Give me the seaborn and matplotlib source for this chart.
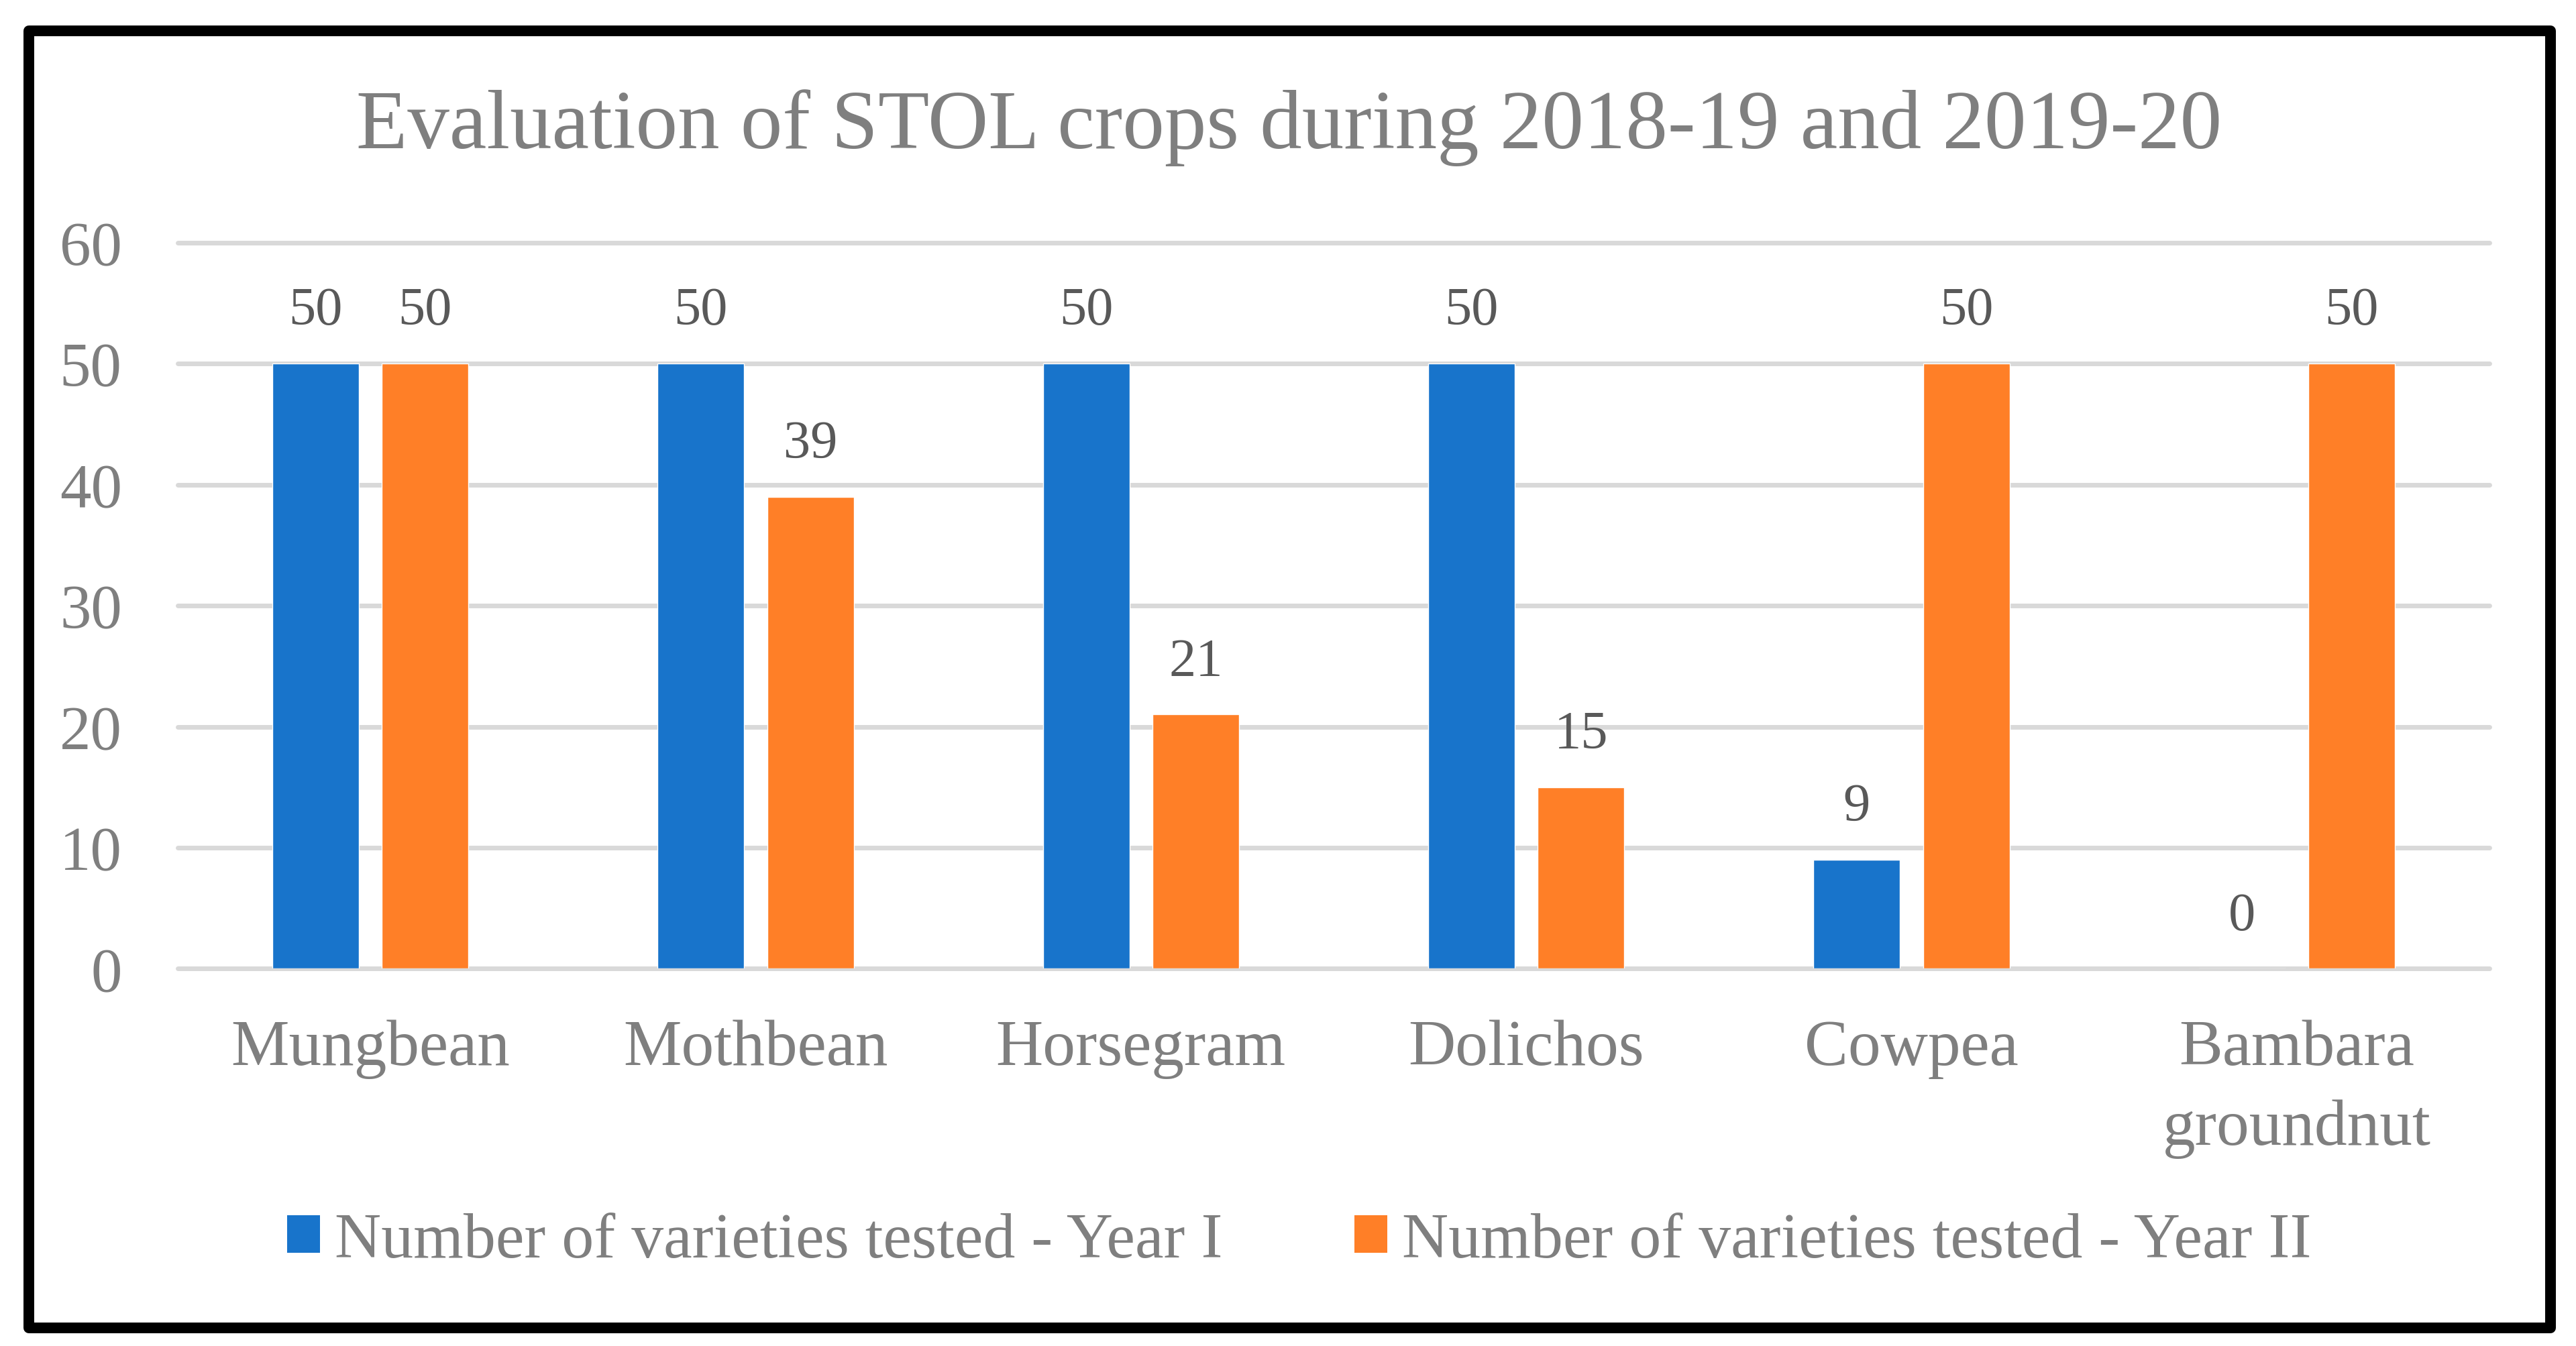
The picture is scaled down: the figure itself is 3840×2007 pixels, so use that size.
import numpy as np
import pandas as pd
import matplotlib.pyplot as plt
from matplotlib.patches import Rectangle, Patch
import seaborn as sns

sns.set_theme(style="white")
plt.rcParams['font.family'] = ['Liberation Serif', 'DejaVu Serif']

# chart data
crops = ['Mungbean', 'Mothbean', 'Horsegram', 'Dolichos', 'Cowpea', 'Bambara\ngroundnut']
year_1 = [50, 50, 50, 50, 9, 0]
year_2 = [50, 39, 21, 15, 50, 50]
series = ['Number of varieties tested - Year I', 'Number of varieties tested - Year II']
colors = ['#1874CB', '#FF7F27']
title = 'Evaluation of STOL crops during 2018-19 and 2019-20'

df = pd.DataFrame({
    'crop': crops * 2,
    'count': year_1 + year_2,
    'series': [series[0]] * len(crops) + [series[1]] * len(crops),
})

fig = plt.figure(figsize=(38.4, 20.08), dpi=100)
ax = fig.add_axes([0.0690, 0.28013, 0.8974, 0.53934])

sns.barplot(data=df, x='crop', y='count', hue='series', palette=colors,
            width=0.569, gap=0.211, saturation=1, legend=False, ax=ax)

ax.set_ylim(0, 60)
ax.set_xlim(-0.5, len(crops) - 0.5)
ax.set_yticks(range(0, 61, 10))
ax.set_axisbelow(True)
ax.yaxis.grid(True, color='#D9D9D9', linewidth=5)
ax.xaxis.grid(False)
for gl in ax.get_ygridlines():
    gl.set_clip_on(False)
for s in ax.spines.values():
    s.set_visible(False)

ax.set_xlabel('')
ax.set_ylabel('')
ax.tick_params(axis='y', length=0, pad=60, labelsize=67, labelcolor='#7F7F7F')
ax.tick_params(axis='x', length=0, pad=54, labelsize=70, labelcolor='#7F7F7F')
for lbl in ax.get_xticklabels():
    lbl.set_linespacing(1.45)

for cont in ax.containers:
    ax.bar_label(cont, fmt='%d', padding=30, fontsize=58, color='#595959')

fig.text(0.5005, 1 - 221 / 2008, title, ha='center', va='baseline',
         fontsize=90, color='#7F7F7F')

handles = [Patch(facecolor=c, edgecolor='none') for c in colors]
fig.legend(handles, series, loc='center', bbox_to_anchor=(1937 / 3840, 1 - 1852 / 2008),
           ncol=2, frameon=False, fontsize=69, labelcolor='#7F7F7F',
           handlelength=0.51, handleheight=0.52, handletextpad=0.23,
           columnspacing=2.05, borderpad=0)

# outer black frame
fig.patches.append(Rectangle((43 / 3840, 1 - 1981 / 2008), (3802 - 43) / 3840,
                             (1981 - 47) / 2008, transform=fig.transFigure,
                             fill=False, edgecolor='black', linewidth=11.5,
                             joinstyle='round'))

fig.savefig('out.png', dpi=100, facecolor='white')
